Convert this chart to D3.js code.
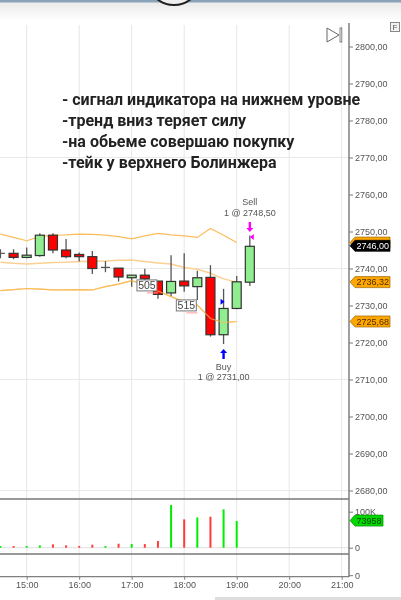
<!DOCTYPE html>
<html>
<head>
<meta charset="utf-8">
<script src="https://cdnjs.cloudflare.com/ajax/libs/d3/7.8.5/d3.min.js"></script>
<style>
  html, body { margin: 0; padding: 0; background: #fff; overflow: hidden; }
  svg { display: block; filter: blur(0.35px); }
  text { font-family: "Liberation Sans", Arial, sans-serif; }
</style>
</head>
<body>
<svg id="chart" width="401" height="600"></svg>
<script>
// bars, 15 minutes each
const times = ["14:30","14:45","15:00","15:15","15:30","15:45","16:00","16:15","16:30","16:45",
  "17:00","17:15","17:30","17:45","18:00","18:15","18:30","18:45","19:00","19:15"];
const opens = [2744.1,2744.1,2743.0,2743.5,2749.0,2745.0,2743.8,2743.2,2740.3,2740.1,
  2737.5,2738.2,2736.6,2733.4,2736.6,2735.1,2737.6,2722.1,2729.2,2736.3];
const highs = [2745.2,2745.2,2745.7,2749.5,2749.5,2748.0,2744.3,2744.7,2742.0,2740.1,
  2738.2,2739.9,2736.6,2743.6,2744.1,2739.4,2740.9,2734.5,2738.0,2748.9];
const lows = [2742.8,2742.5,2742.8,2743.2,2744.1,2742.8,2741.9,2738.5,2739.0,2736.5,
  2735.1,2736.9,2731.8,2732.6,2733.7,2731.5,2721.6,2719.6,2729.0,2735.3];
const closes = [2744.1,2743.0,2743.6,2749.0,2745.0,2743.2,2743.2,2740.0,2740.3,2737.7,
  2738.2,2737.2,2733.0,2736.5,2735.3,2737.5,2722.1,2729.2,2736.4,2746.0];

// bollinger bands, last value is the 19:00 bar
const bbUpper = [2749.3,2748.4,2747.5,2748.6,2749.0,2749.1,2749.3,2749.2,2749.0,2748.6,
  2748.0,2748.8,2749.5,2749.1,2748.8,2748.4,2750.8,2749.0,2747.0];
const bbMiddle = [2741.7,2741.4,2741.2,2741.4,2741.6,2741.7,2741.9,2741.9,2742.0,2742.2,
  2742.3,2741.9,2741.5,2741.2,2740.3,2739.8,2738.7,2737.2,2736.32];
const bbLower = [2734.0,2734.3,2734.6,2734.4,2734.2,2734.2,2734.3,2734.2,2735.1,2735.8,
  2736.7,2735.5,2733.9,2732.4,2731.0,2730.1,2726.5,2725.4,2725.68];

const volumes = [4.6,4.6,4.6,6.5,9.3,6.5,4.6,8.3,4.6,11,10,10,18.5,118.5,78.7,84,86,106.5,73.958];
const volumeUp = [1,0,1,1,0,0,0,0,1,0,1,0,0,1,0,1,0,1,1];

const priceTicks = [2800,2790,2780,2770,2760,2750,2740,2730,2720,2710,2700,2690,2680];
const priceGrid = [2770,2740,2710,2680];
const hourTicks = ["15:00","16:00","17:00","18:00","19:00","20:00","21:00"];
const volumeTicks = [0,100];

const noteLines = ["- сигнал индикатора на нижнем уровне","-тренд вниз теряет силу",
  "-на обьеме совершаю покупку","-тейк у верхнего Болинжера"];
const priceTags = [2736.32,2725.68];
const hiddenTag = 2747.0;
const clusterLabels = ["505","515"];
const clusterTimes = ["17:30","18:15"];
const clusterPrices = [2733.4,2728.0];

const comma = v => d3.format(".2f")(v).replace(".", ",");
const parse = d3.timeParse("%H:%M");

const x = d3.scaleTime().domain([parse("15:00"), parse("21:00")]).range([26.7, 341.7]);
const y = d3.scaleLinear().domain([2800, 2680]).range([46.5, 490.5]);
const yVol = d3.scaleLinear().domain([0, 100]).range([547.7, 511.7]);

const svg = d3.select("#chart");

// window chrome along the top and bottom
const defs = svg.append("defs");
const grad = defs.append("linearGradient").attr("id", "chrome").attr("x1", 0).attr("x2", 0).attr("y1", 0).attr("y2", 1);
grad.append("stop").attr("offset", 0).attr("stop-color", "#eaeaea");
grad.append("stop").attr("offset", 1).attr("stop-color", "#ffffff");
svg.append("rect").attr("x", 0).attr("y", 2).attr("width", 401).attr("height", 19).attr("fill", "url(#chrome)");
svg.append("rect").attr("x", 0).attr("y", 0).attr("width", 401).attr("height", 2.5).attr("fill", "#8ba3b8");
svg.append("circle").attr("cx", 174).attr("cy", -22).attr("r", 27)
  .attr("fill", "#eee").attr("stroke", "#222").attr("stroke-width", 2);
svg.append("rect").attr("x", 215).attr("y", 597).attr("width", 186).attr("height", 3).attr("fill", "#ddd");

// grid
svg.append("g").selectAll("line").data(hourTicks).join("line")
  .attr("x1", d => x(parse(d))).attr("x2", d => x(parse(d)))
  .attr("y1", 25).attr("y2", 577)
  .attr("stroke", "#e6e6e6");
svg.append("g").selectAll("line").data(priceGrid).join("line")
  .attr("x1", 0).attr("x2", 349)
  .attr("y1", d => y(d)).attr("y2", d => y(d))
  .attr("stroke", "#e8e8e8");
svg.append("line").attr("x1", 0).attr("x2", 349).attr("y1", yVol(0)).attr("y2", yVol(0)).attr("stroke", "#e0e0e0");

// bollinger
const bbLine = d3.line().x((d, i) => x(parse(times[i]))).y(d => y(d));
[bbUpper, bbLower].forEach(s => {
  svg.append("path").attr("d", bbLine(s)).attr("fill", "none").attr("stroke", "#fbbd5c").attr("stroke-width", 1.2);
});
svg.append("path").attr("d", bbLine(bbMiddle)).attr("fill", "none").attr("stroke", "#fbd090").attr("stroke-width", 1.5);

// candles
const candles = svg.append("g").selectAll("g").data(times).join("g");
candles.append("line")
  .attr("x1", d => x(parse(d))).attr("x2", d => x(parse(d)))
  .attr("y1", (d, i) => y(highs[i])).attr("y2", (d, i) => y(lows[i]))
  .attr("stroke", "#555").attr("stroke-width", 1.3);
candles.append("rect")
  .attr("x", d => x(parse(d)) - 4.5)
  .attr("y", (d, i) => y(Math.max(opens[i], closes[i])))
  .attr("width", 9)
  .attr("height", (d, i) => Math.abs(y(opens[i]) - y(closes[i])))
  .attr("fill", (d, i) => closes[i] > opens[i] ? "#90ee90" : "#ff0000")
  .attr("stroke", "#333").attr("stroke-width", 1.2);
// zero height rects don't paint, dojis get a plain dash
candles.filter((d, i) => opens[i] === closes[i]).append("line")
  .attr("x1", d => x(parse(d)) - 4.5).attr("x2", d => x(parse(d)) + 4.5)
  .attr("y1", d => y(opens[times.indexOf(d)])).attr("y2", d => y(opens[times.indexOf(d)]))
  .attr("stroke", "#555").attr("stroke-width", 1.2);

// band drawn over the candle on the 18:30-18:45 stretch in the reference
svg.append("path").attr("d", bbLine(bbLower)).attr("fill", "none").attr("stroke", "#fbbd5c").attr("stroke-width", 1.2).attr("opacity", 0.7);

// cluster labels
clusterLabels.forEach((t, i) => {
  const cx = x(parse(clusterTimes[i]));
  const cy = y(clusterPrices[i]);
  svg.append("line").attr("x1", cx - 11).attr("x2", cx)
    .attr("y1", cy).attr("y2", cy).attr("stroke", "#ff9a9a").attr("stroke-width", 1);
  svg.append("rect").attr("x", cx - 21).attr("y", cy - 13).attr("width", 20).attr("height", 11)
    .attr("fill", "#fff").attr("stroke", "#777");
  svg.append("text").attr("x", cx - 11).attr("y", cy - 3.5).attr("text-anchor", "middle")
    .attr("font-size", 10.5).attr("fill", "#444").text(t);
});

// executions
const sellX = x(parse("19:15"));
const buyX = x(parse("18:45"));
const arrow = (ax, ay, dir, color) => {
  svg.append("path")
    .attr("d", `M${ax - 1.2},${ay} V${ay + dir * 6} H${ax - 3.5} L${ax},${ay + dir * 10} L${ax + 3.5},${ay + dir * 6} H${ax + 1.2} V${ay} Z`)
    .attr("fill", color);
};
arrow(sellX, 222, 1, "#ff00ff");
arrow(buyX, 359, -1, "#0000ff");
svg.append("path").attr("d", `M${sellX + 4},${y(2748.5) - 3} L${sellX},${y(2748.5)} L${sellX + 4},${y(2748.5) + 3} Z`).attr("fill", "#ff00ff");
svg.append("path").attr("d", `M${buyX - 3},${y(2731) - 3} L${buyX + 1},${y(2731)} L${buyX - 3},${y(2731) + 3} Z`).attr("fill", "#0000ff");

const execText = [["Sell", sellX, 205], ["1 @ " + comma(2748.5), sellX, 216], ["Buy", buyX, 370], ["1 @ " + comma(2731), buyX, 380]];
svg.append("g").selectAll("text").data(execText).join("text")
  .attr("x", d => d[1]).attr("y", d => d[2]).attr("text-anchor", "middle")
  .attr("font-size", 9).attr("fill", "#555").text(d => d[0]);

// volume bars
svg.append("g").selectAll("rect").data(volumes).join("rect")
  .attr("x", (d, i) => x(parse(times[i])) - 1)
  .attr("y", d => yVol(d))
  .attr("width", 2)
  .attr("height", d => yVol(0) - yVol(d))
  .attr("fill", (d, i) => volumeUp[i] ? "#00ee00" : "#ff3b3b");

// panel separators
[499, 554].forEach(py => {
  svg.append("line").attr("x1", 0).attr("x2", 349).attr("y1", py).attr("y2", py)
    .attr("stroke", "#777").attr("stroke-width", 1.3);
});

// price axis
const priceAxis = svg.append("g").attr("transform", "translate(349,0)")
  .call(d3.axisRight(y).tickValues(priceTicks).tickFormat(comma).tickSize(4).tickPadding(2));
priceAxis.select(".domain").remove();
priceAxis.selectAll("text").attr("font-size", 9).attr("fill", "#555").attr("font-family", null);
priceAxis.selectAll("line").attr("stroke", "#777");

svg.append("line").attr("x1", 349).attr("x2", 349).attr("y1", 23).attr("y2", 577)
  .attr("stroke", "#808080").attr("stroke-width", 1.5);

// volume axis
const volAxis = svg.append("g").attr("transform", "translate(349,0)")
  .call(d3.axisRight(yVol).tickValues(volumeTicks).tickFormat(d => d ? d + "K" : "0").tickSize(4).tickPadding(2));
volAxis.select(".domain").remove();
volAxis.selectAll("text").attr("font-size", 9).attr("fill", "#555").attr("font-family", null);
volAxis.selectAll("line").attr("stroke", "#777");

// second zero on the empty lower panel
svg.append("line").attr("x1", 349).attr("x2", 353).attr("y1", 575.7).attr("y2", 575.7).attr("stroke", "#777");
svg.append("text").attr("x", 355).attr("y", 579).attr("font-size", 9).attr("fill", "#555").text("0");

// time axis
const timeAxis = svg.append("g").attr("transform", "translate(0,576.7)")
  .call(d3.axisBottom(x).tickValues(hourTicks.map(parse)).tickFormat(d3.timeFormat("%H:%M")).tickSize(3).tickPadding(2));
timeAxis.select(".domain").remove();
timeAxis.selectAll("text").attr("font-size", 9).attr("fill", "#555").attr("font-family", null);
timeAxis.selectAll("line").attr("stroke", "#777");
svg.append("line").attr("x1", 0).attr("x2", 349).attr("y1", 576.7).attr("y2", 576.7)
  .attr("stroke", "#808080").attr("stroke-width", 1.3);

// price tags
const tag = (value, ty, fill, color, stroke, width) => {
  svg.append("path")
    .attr("d", `M350,${ty} l5,-5.5 H${355 + width} v11 H355 Z`)
    .attr("fill", fill).attr("stroke", stroke).attr("stroke-width", 0.7);
  if (value) {
    svg.append("text").attr("x", 356.5).attr("y", ty + 3.2).attr("font-size", 9)
      .attr("fill", color).text(value);
  }
};
// upper band tag sits almost fully under the last price
tag(null, y(hiddenTag), "#ffa500", "#4a3000", "#9a6a00", 35);
priceTags.forEach(p => tag(comma(p), y(p), "#ffa500", "#4a3000", "#9a6a00", 35));
tag(comma(closes[closes.length - 1]), y(closes[closes.length - 1]) - 0.5, "#000", "#fff", "#000", 35);
tag("73958", yVol(volumes[volumes.length - 1]) - 0.5, "#00d800", "#004400", "#008800", 28);

// scroll to end button and the F box
svg.append("path").attr("d", "M327,28 V42 L339,35 Z").attr("fill", "#fff").attr("stroke", "#666").attr("stroke-width", 1);
svg.append("rect").attr("x", 340).attr("y", 28).attr("width", 1.8).attr("height", 14)
  .attr("fill", "#fff").attr("stroke", "#666").attr("stroke-width", 0.8);
svg.append("rect").attr("x", 390.5).attr("y", 22.5).attr("width", 9).attr("height", 9)
  .attr("fill", "#f2f2f2").attr("stroke", "#888");
svg.append("text").attr("x", 395).attr("y", 30).attr("text-anchor", "middle").attr("font-size", 8).attr("fill", "#555").text("F");

// notes
svg.append("g").selectAll("text").data(noteLines).join("text")
  .attr("x", 62)
  .attr("y", (d, i) => 105 + i * 21)
  .attr("font-size", 16)
  .attr("font-weight", 700)
  .style("font-family", "Roboto, sans-serif")
  .attr("fill", "#222")
  .text(d => d);
</script>
</body>
</html>
